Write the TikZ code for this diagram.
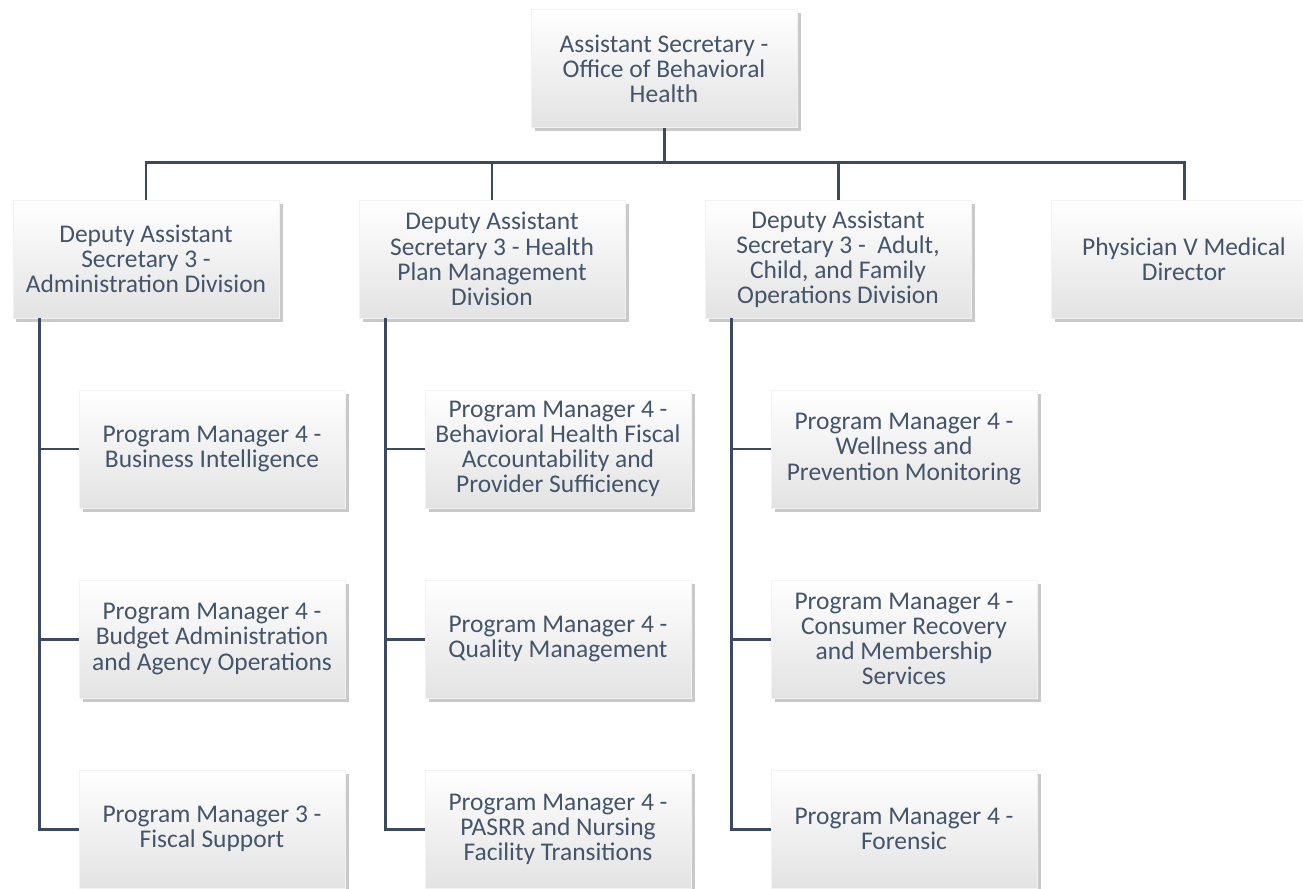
\documentclass[tikz,border=0pt]{standalone}
\usepackage{fontspec}
\setmainfont{Carlito}
\usetikzlibrary{positioning, shadows}

\definecolor{slatetext}{HTML}{44546A}
\definecolor{slateline}{HTML}{3B4A5E}

\tikzset{
  unit/.style={rectangle, minimum width=5.32cm, minimum height=2.36cm,
    align=center, text=slatetext, font=\fontsize{14.5}{14.3}\selectfont,
    top color=white, bottom color=black!11, draw=black!5, line width=0.3pt,
    drop shadow={shadow xshift=0.07cm, shadow yshift=-0.07cm, opacity=0.3, fill=black!70}},
  link/.style={draw=slateline, line width=1.7pt}
}

\begin{document}
\begin{tikzpicture}[node distance = 3.8cm, on grid]
			\useasboundingbox (0,0) rectangle (26.06,-17.78);

			\node[unit] (head) at (13.28,-1.37) {Assistant Secretary -\\Office of Behavioral\\Health};

			\node[unit, below left=3.81cm and 10.36cm of head] (adm) {Deputy Assistant\\Secretary 3 -\\Administration Division};
			\node[unit, right=6.92cm of adm] (hpm) {Deputy Assistant\\Secretary 3 - Health\\Plan Management\\Division};
			\node[unit, right=6.92cm of hpm] (acf) {Deputy Assistant\\Secretary 3 -\ \ Adult,\\Child, and Family\\Operations Division};
			\node[unit, right=6.92cm of acf] (phy) {Physician V Medical\\Director};

			\node[unit, below right=3.8cm and 1.32cm of adm] (bi) {Program Manager 4 -\\Business Intelligence};
			\node[unit, below=of bi] (bud) {Program Manager 4 -\\Budget Administration\\and Agency Operations};
			\node[unit, below=of bud] (fis) {Program Manager 3 -\\Fiscal Support};

			\node[unit, below right=3.8cm and 1.32cm of hpm] (bhf) {Program Manager 4 -\\Behavioral Health Fiscal\\Accountability and\\Provider Sufficiency};
			\node[unit, below=of bhf] (qm) {Program Manager 4 -\\Quality Management};
			\node[unit, below=of qm] (pas) {Program Manager 4 -\\PASRR and Nursing\\Facility Transitions};

			\node[unit, below right=3.8cm and 1.32cm of acf] (wel) {Program Manager 4 -\\Wellness and\\Prevention Monitoring};
			\node[unit, below=of wel] (con) {Program Manager 4 -\\Consumer Recovery\\and Membership\\Services};
			\node[unit, below=of con] (for) {Program Manager 4 -\\Forensic};

			% top level to divisions
			\draw[link] (head.south) -- ++(0,-0.7) coordinate (bus);
			\draw[link] (bus) -| (adm.north);
			\draw[link] (bus) -| (hpm.north);
			\draw[link] (bus) -| (acf.north);
			\draw[link] (bus) -| (phy.north);

			% divisions to program managers
			\foreach \div/\kids in {adm/{bi,bud,fis}, hpm/{bhf,qm,pas}, acf/{wel,con,for}}
				\foreach \kid in \kids
					\draw[link] ([xshift=0.54cm]\div.south west) |- (\kid.west);
		\end{tikzpicture}
\end{document}
